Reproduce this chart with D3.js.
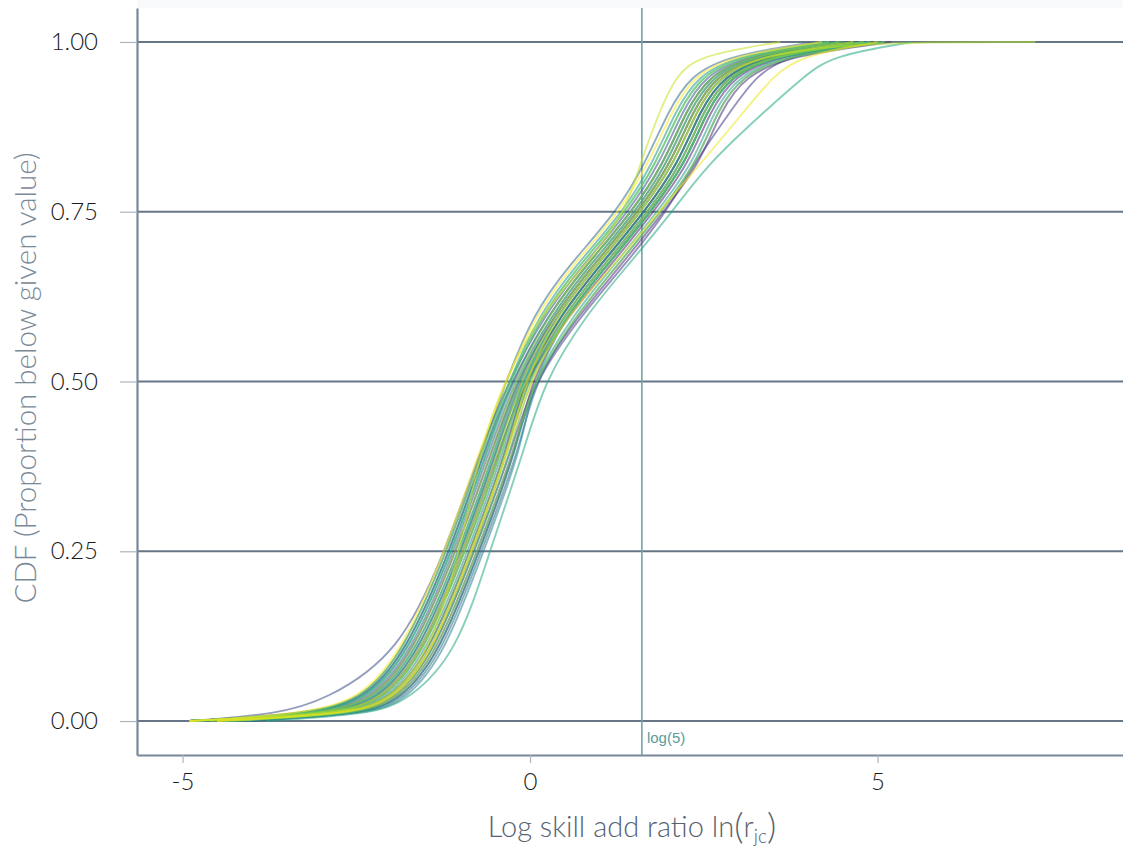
<!DOCTYPE html>
<html>
<head>
<meta charset="utf-8">
<script src="https://cdn.jsdelivr.net/npm/d3@7"></script>
<style>
  body { margin: 0; background: #fff; }
  text { font-family: "Lato", "Open Sans", sans-serif; }
</style>
</head>
<body>
<div id="chart"></div>
<script>
var levels = [0, 0.01, 0.03, 0.1, 0.25, 0.4, 0.5, 0.6, 0.67, 0.75, 0.82, 0.9, 0.95, 0.98, 1];

// one row per curve: x (log skill add ratio) at each level
var curves = [
  [-4.6, -2.68, -2.02, -1.45, -0.86, -0.33, -0.09, 0.45, 1.0, 1.65, 2.13, 2.45, 2.78, 3.4, 4.75],
  [-4.9, -3.04, -2.26, -1.68, -1.06, -0.54, -0.2, 0.36, 0.9, 1.56, 2.02, 2.35, 2.67, 3.28, 4.6],
  [-4.2, -2.44, -1.86, -1.3, -0.73, -0.19, 0.0, 0.54, 1.1, 1.74, 2.23, 2.55, 2.88, 3.52, 4.9],
  [-4.9, -2.86, -2.14, -1.56, -0.96, -0.44, -0.09, 0.58, 1.15, 1.78, 2.28, 2.6, 2.93, 3.58, 4.95],
  [-4.5, -2.56, -1.94, -1.38, -0.8, -0.26, 0.03, 0.72, 1.3, 1.92, 2.44, 2.75, 3.09, 3.76, 5.2],
  [-4.9, -3.22, -2.38, -1.79, -1.15, -0.65, -0.27, 0.27, 0.8, 1.47, 1.92, 2.25, 2.57, 3.16, 4.45],
  [-4.0, -2.5, -1.9, -1.34, -0.76, -0.22, 0.05, 0.76, 1.35, 1.97, 2.35, 2.9, 3.25, 3.7, 4.9],
  [-4.9, -2.92, -2.18, -1.6, -0.99, -0.47, -0.16, 0.4, 0.95, 1.6, 2.07, 2.4, 2.72, 3.34, 4.65],
  [-4.9, -3.65, -2.95, -1.87, -1.22, -0.71, -0.31, 0.22, 0.75, 1.42, 1.86, 2.2, 2.51, 3.1, 4.4],
  [-4.3, -2.62, -1.98, -1.41, -0.83, -0.3, -0.06, 0.5, 1.05, 1.7, 2.18, 2.5, 2.83, 3.46, 4.8],
  [-4.9, -3.1, -2.3, -1.71, -1.09, -0.58, -0.23, 0.32, 0.85, 1.52, 1.97, 2.3, 2.62, 3.22, 4.5],
  [-4.7, -2.8, -2.1, -1.53, -0.93, -0.4, -0.12, 0.45, 1.0, 1.65, 2.13, 2.45, 2.78, 3.4, 4.75],
  [-4.9, -3.28, -2.42, -1.83, -1.19, -0.68, -0.35, 0.05, 0.55, 1.25, 1.65, 2.0, 2.3, 2.86, 4.1],
  [-4.4, -2.38, -1.82, -1.26, -0.7, -0.15, 0.06, 0.68, 1.25, 1.88, 2.39, 2.7, 3.04, 3.7, 5.1],
  [-4.9, -2.98, -2.22, -1.64, -1.02, -0.5, -0.18, 0.36, 0.9, 1.56, 2.02, 2.35, 2.67, 3.28, 4.6],
  [-4.1, -2.32, -1.78, -1.22, -0.67, -0.12, 0.03, 0.54, 1.1, 1.74, 2.23, 2.55, 2.88, 3.52, 4.9],
  [-4.9, -3.16, -2.34, -1.75, -1.12, -0.61, -0.26, 0.27, 0.8, 1.47, 1.92, 2.25, 2.57, 3.16, 4.45],
  [-4.6, -2.74, -2.06, -1.49, -0.89, -0.37, -0.09, 0.5, 1.05, 1.7, 2.18, 2.5, 2.83, 3.46, 4.8],
  [-4.9, -3.22, -2.38, -1.79, -1.15, -0.65, -0.31, 0.14, 0.65, 1.34, 1.76, 2.1, 2.41, 2.98, 4.25],
  [-4.2, -2.44, -1.86, -1.3, -0.73, -0.19, 0.03, 0.63, 1.2, 1.83, 2.34, 2.65, 2.99, 3.64, 5.05],
  [-4.9, -2.92, -2.18, -1.6, -0.99, -0.47, -0.14, 0.45, 1.0, 1.65, 2.13, 2.45, 2.78, 3.4, 4.75],
  [-3.8, -2.3, -1.75, -1.05, -0.58, -0.08, 0.2, 0.82, 1.4, 2.05, 2.55, 3.4, 3.95, 4.35, 5.5],
  [-4.7, -2.8, -2.1, -1.53, -0.93, -0.4, -0.13, 0.4, 0.95, 1.6, 2.07, 2.4, 2.72, 3.34, 4.65],
  [-4.9, -3.16, -2.34, -1.75, -1.12, -0.61, -0.29, 0.18, 0.7, 1.38, 1.81, 2.15, 2.46, 3.04, 4.3],
  [-4.4, -2.56, -1.94, -1.38, -0.8, -0.26, -0.03, 0.54, 1.1, 1.74, 2.23, 2.55, 2.88, 3.52, 4.9],
  [-4.9, -2.98, -2.22, -1.64, -1.02, -0.5, -0.2, 0.32, 0.85, 1.52, 1.97, 2.3, 2.62, 3.22, 4.5],
  [-4.5, -2.68, -2.02, -1.45, -0.86, -0.33, -0.06, 0.54, 1.1, 1.74, 2.23, 2.55, 2.88, 3.52, 4.9],
  [-4.9, -3.28, -2.42, -1.83, -1.19, -0.68, -0.31, 0.18, 0.7, 1.38, 1.81, 2.15, 2.46, 3.04, 4.3],
  [-4.3, -2.5, -1.9, -1.34, -0.76, -0.22, 0.03, 0.68, 1.25, 1.88, 2.39, 2.7, 3.04, 3.7, 5.1],
  [-4.9, -3.04, -2.26, -1.68, -1.06, -0.54, -0.23, 0.27, 0.8, 1.47, 1.92, 2.25, 2.57, 3.16, 4.45],
  [-4.6, -2.8, -2.1, -1.53, -0.93, -0.4, -0.11, 0.5, 1.05, 1.7, 2.18, 2.5, 2.83, 3.46, 4.8],
  [-4.9, -2.86, -2.14, -1.56, -0.96, -0.44, -0.15, 0.36, 0.9, 1.56, 2.02, 2.35, 2.67, 3.28, 4.8],
  [-4.9, -2.7, -2.0, -1.45, -1.0, -0.72, -0.38, 0.15, 0.8, 1.38, 1.58, 1.87, 2.1, 2.42, 3.6],
  [-4.5, -2.62, -1.98, -1.41, -0.83, -0.3, -0.08, 0.4, 0.95, 1.6, 2.07, 2.4, 2.72, 3.34, 4.65],
  [-4.5, -2.6, -1.95, -1.4, -0.85, -0.3, -0.02, 0.55, 1.2, 1.85, 2.45, 3.1, 3.5, 3.9, 5.0],
  [-4.9, -3.34, -2.46, -1.86, -1.22, -0.72, -0.35, 0.09, 0.6, 1.29, 1.7, 2.05, 2.35, 2.92, 4.2]
];

// x where each curve's line stops (the largest observed value)
var lineEnd = [4.75, 4.6, 4.9, 4.95, 5.2, 4.45, 4.9, 4.65, 4.4, 4.8, 4.5, 4.75, 4.1, 5.1, 4.6, 4.9,
  4.45, 4.8, 4.25, 5.05, 4.75, 5.5, 4.65, 4.3, 4.9, 4.5, 4.9, 4.3, 5.1, 4.45, 4.8, 7.27, 3.6, 4.65, 5.0, 4.2];

var yTicks = [0, 0.25, 0.5, 0.75, 1];
var xTicks = [-5, 0, 5];
var refLine = Math.log(5);

var width = 1123;
var height = 846;
var margin = { top: 8, right: 0, bottom: 91, left: 137 };

var svg = d3
  .select("#chart")
  .append("svg")
  .attr("width", width)
  .attr("height", height);

var x = d3
  .scaleLinear()
  .domain([-5.655, 8.532])
  .range([margin.left, width - margin.right]);

var y = d3
  .scaleLinear()
  .domain([-0.05, 1.05])
  .range([height - margin.bottom, margin.top]);

// faint band above the panel
svg
  .append("rect")
  .attr("x", margin.left)
  .attr("y", 0)
  .attr("width", width - margin.left)
  .attr("height", margin.top)
  .attr("fill", "#f7f9fb");

svg
  .append("clipPath")
  .attr("id", "clip")
  .append("rect")
  .attr("x", margin.left)
  .attr("y", margin.top)
  .attr("width", width - margin.left - margin.right)
  .attr("height", height - margin.top - margin.bottom);

// horizontal grid
svg
  .append("g")
  .selectAll("line")
  .data(yTicks)
  .enter()
  .append("line")
  .attr("x1", margin.left)
  .attr("x2", width - margin.right)
  .attr("y1", function (d) { return y(d); })
  .attr("y2", function (d) { return y(d); })
  .attr("stroke", "#667687")
  .attr("stroke-width", 2);

// log(5) reference line
svg
  .append("line")
  .attr("x1", x(refLine))
  .attr("x2", x(refLine))
  .attr("y1", margin.top)
  .attr("y2", height - margin.bottom)
  .attr("stroke", "#6fa5a6")
  .attr("stroke-width", 1.6);

svg
  .append("text")
  .attr("x", x(refLine) + 5)
  .attr("y", 743)
  .attr("fill", "#5a9c9c")
  .attr("font-size", 15)
  .style("font-family", "Liberation Sans, Arial, sans-serif")
  .text("log(5)");

// curves
var line = d3
  .line()
  .x(function (d) { return x(d[0]); })
  .y(function (d) { return y(d[1]); })
  .curve(d3.curveBasis);

var n = curves.length;

svg
  .append("g")
  .attr("clip-path", "url(#clip)")
  .selectAll("path")
  .data(curves)
  .enter()
  .append("path")
  .attr("d", function (row, i) {
    var pts = row.map(function (v, k) { return [v, levels[k]]; });
    if (lineEnd[i] > row[row.length - 1]) pts.push([lineEnd[i], 1]);
    return line(pts);
  })
  .attr("fill", "none")
  .attr("stroke", function (d, i) { return d3.interpolateViridis(i / (n - 1)); })
  .attr("stroke-opacity", 0.55)
  .attr("stroke-width", 1.9);

// axes
var yAxis = svg
  .append("g")
  .attr("transform", "translate(" + margin.left + ",0)")
  .call(
    d3.axisLeft(y)
      .tickValues(yTicks)
      .tickFormat(d3.format(".2f"))
      .tickSizeInner(17)
      .tickSizeOuter(0)
      .tickPadding(22)
  );

var xAxis = svg
  .append("g")
  .attr("transform", "translate(0," + (height - margin.bottom) + ")")
  .call(
    d3.axisBottom(x)
      .tickValues(xTicks)
      .tickFormat(function (d) { return String(d); })
      .tickSizeInner(8)
      .tickSizeOuter(0)
      .tickPadding(10)
  );

[yAxis, xAxis].forEach(function (g) {
  g.select(".domain").attr("stroke", "#778797").attr("stroke-width", 2.2);
  g.selectAll(".tick line").attr("stroke", "#a9b4bf").attr("stroke-width", 1.2);
  g.selectAll(".tick text")
    .attr("fill", "#1b1b1b")
    .attr("font-size", 24)
    .style("font-family", "Lato, sans-serif")
    .style("font-weight", 300);
});

// axis titles
svg
  .append("text")
  .attr("transform", "translate(36," + 378 + ") rotate(-90)")
  .attr("text-anchor", "middle")
  .attr("fill", "#7b8896")
  .attr("font-size", 29.5)
  .style("font-weight", 300)
  .text("CDF (Proportion below given value)");

var xt = svg
  .append("text")
  .attr("x", 632)
  .attr("y", 837)
  .attr("text-anchor", "middle")
  .attr("fill", "#56626f")
  .attr("font-size", 29)
  .style("font-weight", 300);

xt.append("tspan").text("Log skill add ratio ln");
xt.append("tspan").attr("font-size", 36).attr("dy", 2).text("(");
xt.append("tspan").attr("font-size", 29).attr("dy", -2).text("r");
xt.append("tspan").attr("font-size", 19).attr("dy", 6).text("jc");
xt.append("tspan").attr("font-size", 36).attr("dy", -4).text(")");
</script>
</body>
</html>
